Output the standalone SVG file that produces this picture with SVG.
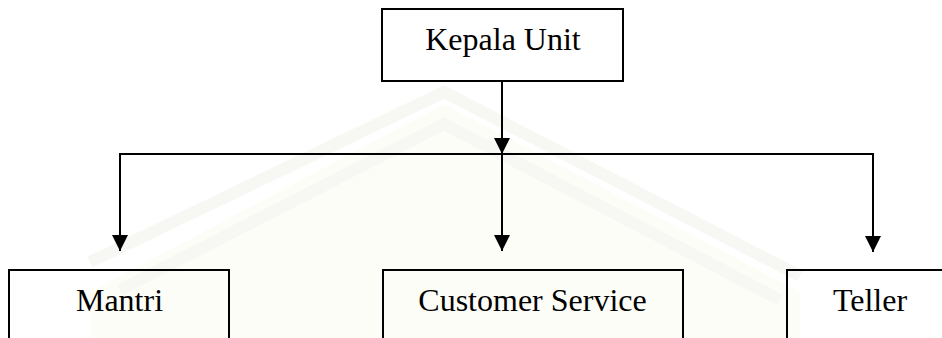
<svg xmlns="http://www.w3.org/2000/svg" width="942" height="338" viewBox="0 0 942 338">
  <style>
    .box { fill: none; stroke: #000; stroke-width: 2; }
    .label { font-family: "Liberation Serif", "Times New Roman", "DejaVu Serif", serif; font-size: 32px; fill: #000; text-anchor: middle; }
    .wire { fill: none; stroke: #000; stroke-width: 2; }
    .wm-band { fill: none; stroke: #f7f7f3; stroke-width: 12; stroke-linejoin: miter; }
  </style>
  <defs>
    <marker id="arrow" markerUnits="userSpaceOnUse" markerWidth="16" markerHeight="16" viewBox="0 0 16 16" refX="16" refY="8" orient="auto">
      <path d="M0,0 L16,8 L0,16 z" fill="#000"/>
    </marker>
  </defs>

  <rect width="942" height="338" fill="#ffffff"/>

  <!-- faint background emblem -->
  <g id="emblem">
    <polygon points="444,104 800,292 800,338 90,338 90,292" fill="#fdfdf8"/>
    <polyline class="wm-band" points="90,262 444,92 800,276"/>
    <polyline class="wm-band" points="120,290 444,124 780,300"/>
  </g>

  <!-- reporting lines -->
  <g id="connectors">
    <path class="wire" d="M502,81 V154" marker-end="url(#arrow)"/>
    <path class="wire" d="M502,154 H120 V251" marker-end="url(#arrow)"/>
    <path class="wire" d="M502,154 V251" marker-end="url(#arrow)"/>
    <path class="wire" d="M502,154 H873 V252" marker-end="url(#arrow)"/>
  </g>

  <g id="kepala-unit">
    <rect class="box" x="382" y="9" width="241" height="72"/>
    <text class="label" x="503" y="50">Kepala Unit</text>
  </g>

  <g id="mantri">
    <rect class="box" x="9" y="270" width="220" height="100"/>
    <text class="label" x="119.5" y="311">Mantri</text>
  </g>

  <g id="customer-service">
    <rect class="box" x="383" y="270" width="300" height="100"/>
    <text class="label" x="532.5" y="311">Customer Service</text>
  </g>

  <g id="teller">
    <rect class="box" x="787" y="270" width="200" height="100"/>
    <text class="label" x="870" y="311">Teller</text>
  </g>
</svg>
